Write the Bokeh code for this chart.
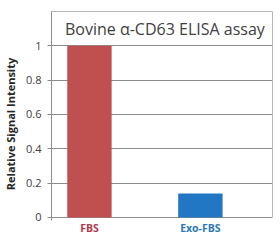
from bokeh.plotting import figure
from bokeh.models import Range1d, FixedTicker, Label, LinearAxis, ColumnDataSource
from bokeh.core.properties import value
from bokeh.embed import file_html
from bokeh.resources import INLINE

categories = ["FBS", "Exo-FBS"]
values = [1.0, 0.14]
bar_colors = ["#C0504F", "#2177C3"]
label_colors = ["#B2394A", "#2A78B8"]
y_ticks = [0, 0.2, 0.4, 0.6, 0.8, 1.0]
y_tick_labels = ["0", "0.2", "0.4", "0.6", "0.8", "1"]
title_text = "Bovine \u03b1-CD63 ELISA assay"
y_label = "Relative Signal Intensity"

xpos = list(range(len(categories)))
Y_TOP = 1.2
X_START, X_END = -0.342, 1.65

p = figure(width=280, height=247, output_backend="svg", toolbar_location=None,
           x_range=Range1d(X_START, X_END), y_range=Range1d(-0.1107, Y_TOP),
           min_border_left=47, min_border_right=8, min_border_top=11, min_border_bottom=11)
p.outline_line_color = None

for ax in p.below:
    ax.visible = False
p.xgrid.visible = False
yax = p.left[0]


def border_axis(bounds):
    return LinearAxis(ticker=FixedTicker(ticks=[]), bounds=bounds,
                      axis_line_color="#b8b8b8", major_tick_out=0, major_tick_in=0,
                      minor_tick_out=0, minor_tick_in=0, major_label_standoff=0,
                      major_label_text_font_size="0px")


p.add_layout(border_axis((X_START, X_END)), "above")
p.add_layout(border_axis((0, Y_TOP)), "right")

p.ygrid.ticker = FixedTicker(ticks=y_ticks)
p.ygrid.grid_line_color = "#8c8c8c"
p.ygrid.grid_line_width = 1

p.vbar(x=xpos, top=values, width=0.4, color=bar_colors, line_color=None)

yax.ticker = FixedTicker(ticks=y_ticks)
yax.bounds = (-0.02, Y_TOP)
yax.major_label_overrides = {t: l for t, l in zip(y_ticks, y_tick_labels)}
yax.minor_tick_line_color = None
yax.major_tick_in = 0
yax.major_tick_out = 4
yax.major_tick_line_color = "#8c8c8c"
yax.axis_line_color = "#8c8c8c"
yax.major_label_text_font = "Open Sans"
yax.major_label_text_font_size = "11px"
yax.major_label_text_color = "#404040"
yax.major_label_standoff = 6
yax.axis_label = y_label
yax.axis_label_text_font = "Open Sans"
yax.axis_label_text_font_style = "bold"
yax.axis_label_text_font_size = "11px"
yax.axis_label_text_color = "#262626"
yax.axis_label_standoff = 5

p.add_layout(Label(x=(xpos[0] + xpos[-1]) / 2 + 0.18, y=1.1, text=title_text,
                   text_font="Open Sans", text_font_style="normal", text_font_size="16px",
                   text_color="#404040", text_align="center", text_baseline="middle"))

src = ColumnDataSource(dict(x=xpos, y=[-0.064] * len(categories), text=categories,
                            color=label_colors))
p.text(x="x", y="y", text="text", text_color="color", source=src,
       text_font=value("Open Sans"), text_font_style="bold", text_font_size="10.5px",
       text_align="center", text_baseline="middle")

open("out.html", "w").write(file_html(p, INLINE))
